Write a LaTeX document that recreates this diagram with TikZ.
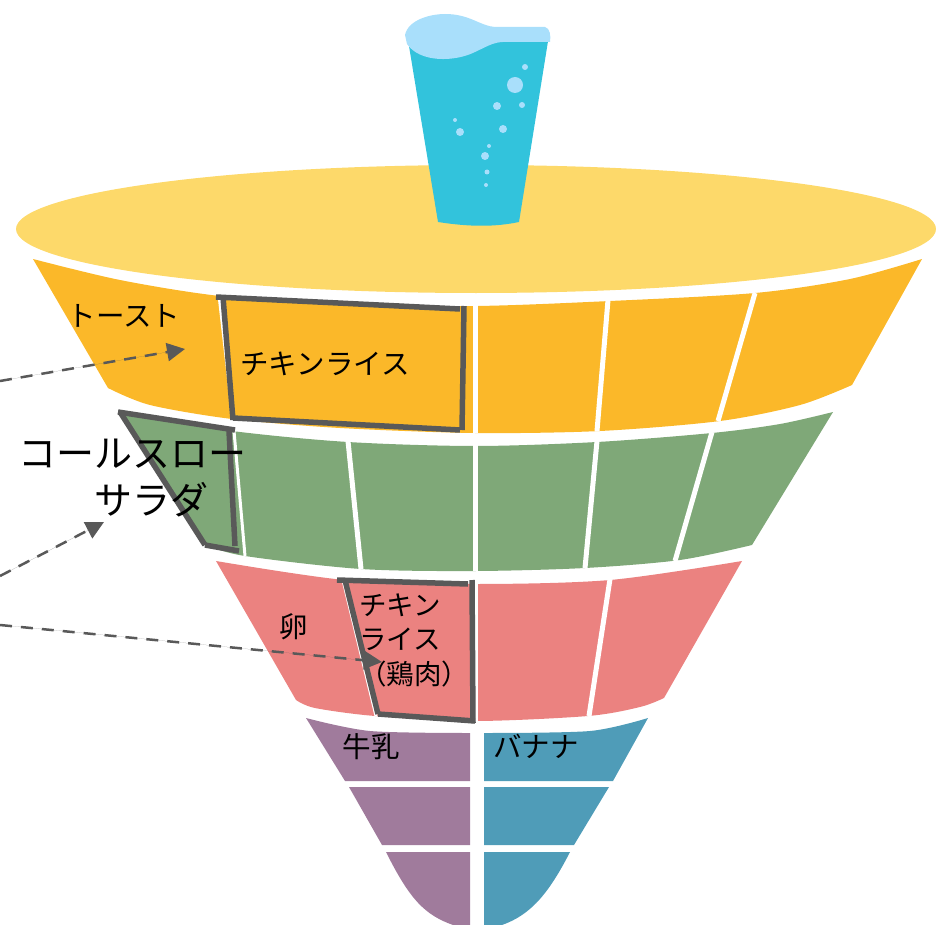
\documentclass[tikz,border=0pt]{standalone}
\usepackage{fontspec}
\setmainfont{Noto Sans CJK JP}
\usepackage{xcolor}
\usetikzlibrary{arrows.meta,positioning}
\definecolor{capcol}{HTML}{FDD96A}
\definecolor{grain}{HTML}{FBB829}
\definecolor{veg}{HTML}{7FA878}
\definecolor{meat}{HTML}{EB8280}
\definecolor{milk}{HTML}{A07B9C}
\definecolor{fruit}{HTML}{4F9CB8}
\definecolor{water}{HTML}{32C3DC}
\definecolor{foam}{HTML}{A9DFFB}
\definecolor{mark}{HTML}{595959}

\begin{document}
\begin{tikzpicture}[
    x=1pt, y=-1pt,
    label/.style={inner sep=0pt, align=center, text=black, font=\fontsize{28.5}{34.5}\selectfont},
    biglabel/.style={label, font=\fontsize{38}{47}\selectfont},
    divider/.style={draw=white, line width=5pt},
    thindiv/.style={draw=white, line width=3pt},
    frameline/.style={draw=mark, line width=5.5pt},
    arrow/.style={-{Triangle[length=18pt,width=18pt]}, draw=mark, fill=mark, line width=2.5pt, dash pattern=on 12pt off 9pt}
  ]
    \useasboundingbox (0,0) rectangle (936,925);

    % cap and glass
    \fill[capcol] (476,229) ellipse [x radius=460, y radius=64];
    \fill[water] (408,40) -- (438,222) .. controls (470,227) and (495,227) .. (519,222) -- (549,35) -- cycle;
    \fill[foam] (405,35) .. controls (408,20) and (430,14) .. (445,14)
      .. controls (470,14) and (480,26) .. (495,27) -- (545,27)
      .. controls (550,28) and (551,36) .. (550,42) -- (510,42)
      .. controls (495,41) and (490,45) .. (475,52)
      .. controls (455,62) and (420,63) .. (407,44) -- cycle;
    \foreach \x/\y/\r in {515/85/8, 497/106/4, 522/105/3, 503/129/4, 460/132/4, 455/120/2, 485/156/4, 489/146/2, 487/172/2.5, 486/185/2, 525/67/3}
      \fill[foam] (\x,\y) circle (\r);

    % tiers
    \fill[grain] plot[smooth] coordinates {(33,259) (120,280) (220,296) (340,304) (475,306) (610,301) (755,293) (850,279) (922,259)}
      -- (852,385) -- plot[smooth] coordinates {(852,385) (800,405) (720,421) (600,431) (475,433) (340,428) (232,419) (150,405) (108,388)} -- cycle;
    \fill[veg] plot[smooth] coordinates {(120,413) (232,431) (348,442) (475,446) (597,442) (712,433) (780,424) (833,412)}
      -- (752,545) -- plot[smooth] coordinates {(752,545) (680,560) (585,568) (475,571) (361,569) (245,556) (205,545)} -- cycle;
    \fill[meat] plot[smooth] coordinates {(216,561) (345,580) (475,584) (610,580) (742,561)}
      -- (664,698) -- plot[smooth] coordinates {(664,698) (640,707) (588,716) (475,721) (375,716) (315,708) (296,700)} -- cycle;
    \fill[milk] plot[smooth] coordinates {(306,718) (370,731) (470,733)} -- (470,781) -- (345,781) -- cycle;
    \fill[milk] (349,787) -- (470,787) -- (470,845) -- (382,845) -- cycle;
    \fill[milk] (386,852) -- (470,852) -- (470,925) -- (453,925) .. controls (425,915) and (410,900) .. (386,852) -- cycle;
    \fill[fruit] plot[smooth] coordinates {(484,733) (590,731) (648,718)} -- (613,781) -- (484,781) -- cycle;
    \fill[fruit] (484,787) -- (609,787) -- (574,845) -- (484,845) -- cycle;
    \fill[fruit] (484,852) -- (570,852) .. controls (548,895) and (530,915) .. (502,925) -- (484,925) -- cycle;

    % dividers
    \foreach \a/\b/\c/\d in {475/305/475/433, 608/300/597/431, 755/293/718/421,
        348/441/361/569, 475/445/475/571, 597/441/585/568, 712/432/675/561,
        475/583/475/722, 610/579/589/716}
      \draw[divider] (\a,\b) -- (\c,\d);
    \foreach \a/\b/\c/\d in {219/295/233/419, 234/431/245/556, 343/580/376/716}
      \draw[thindiv] (\a,\b) -- (\c,\d);

    % frames
    \draw[frameline] (216,297) -- (460,309);
    \draw[frameline] (464,306) -- (462,430);
    \draw[frameline] (233,418) -- (460,430);
    \draw[frameline] (223,297) -- (233,420);
    \draw[frameline] (118,412) -- (235,430);
    \draw[frameline] (120,412) -- (205,545);
    \draw[frameline] (205,545) -- (239,551);
    \draw[frameline] (229,431) -- (235,546);
    \draw[frameline] (337,580) -- (468,584);
    \draw[frameline] (345,580) -- (378,714);
    \draw[frameline] (378,714) -- (475,721);
    \draw[frameline] (472,580) -- (473,723);

    % labels
    \node[label] (toast) at (124,316) {トースト};
    \node[label] (chicken) at (325,364) {チキンライス};
    \node[biglabel] (slaw) at (132,478) {コールスロー\\\hspace*{38pt}サラダ};
    \node[label] (egg) at (294,627) {卵};
    \node[label, align=left, font=\fontsize{27.5}{34.5}\selectfont] (meatlabel) at (414,640) {チキン\\ライス\\（鶏肉）};
    \node[label] (milklabel) at (371,747) {牛乳};
    \node[label] (banana) at (536,746) {バナナ};

    % arrows
    \coordinate (froma) at (0,381);
    \coordinate (toa) at (185,349);
    \coordinate (fromb) at (0,576);
    \coordinate (tob) at (104,522);
    \coordinate (fromc) at (0,625);
    \coordinate (toc) at (382,662);
    \foreach \a/\b in {froma/toa,fromb/tob,fromc/toc}
      \draw[arrow] (\a) -- (\b);
  \end{tikzpicture}
\end{document}
